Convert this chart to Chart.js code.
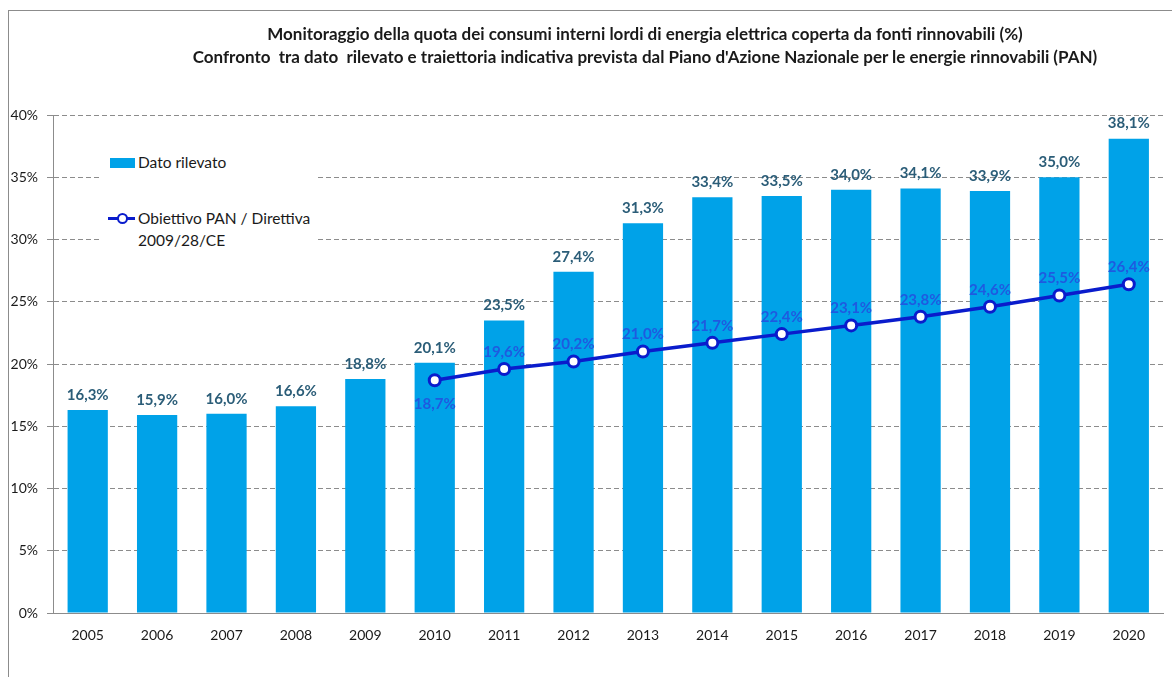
<!DOCTYPE html>
<html><head><meta charset="utf-8">
<script src="https://cdn.jsdelivr.net/npm/chart.js@4"></script>
<style>
html,body{margin:0;padding:0;background:#fff;}
#wrap{position:relative;width:1172px;height:677px;overflow:hidden;font-family:Lato,"Open Sans",sans-serif;}
#frame{position:absolute;left:8px;top:10px;width:1200px;height:700px;border:1px solid #8c8c8c;box-sizing:border-box;}
#title{position:absolute;left:145px;width:1000px;top:22px;text-align:center;font-weight:bold;font-size:17px;line-height:23px;color:#1a1a1a;}
#legend{position:absolute;left:100px;top:142px;width:218px;height:112px;background:#fff;font-size:15.5px;color:#1a1a1a;}
.sw{position:absolute;left:10px;top:16px;width:25px;height:10px;background:#00a2e8;}
.t1{position:absolute;left:38px;top:11px;}
.ln{position:absolute;left:8px;top:75px;width:27px;height:3px;background:#0a1ccc;}
.pt{position:absolute;left:17px;top:71px;width:7px;height:7px;border:2px solid #0a1ccc;border-radius:50%;background:#fff;}
.t2{position:absolute;left:38px;top:65px;line-height:22px;}
canvas{position:absolute;left:0;top:0;}
</style></head>
<body><div id="wrap">
<div id="frame"></div>
<canvas id="c" width="1172" height="677"></canvas>
<div id="title">Monitoraggio della quota dei consumi interni lordi di energia elettrica coperta da fonti rinnovabili (%)<br>Confronto&nbsp; tra dato&nbsp; rilevato e traiettoria indicativa prevista dal Piano d'Azione Nazionale per le energie rinnovabili (PAN)</div>
<div id="legend"><div class="sw"></div><div class="t1">Dato rilevato</div><div class="ln"></div><div class="pt"></div><div class="t2">Obiettivo PAN / Direttiva<br>2009/28/CE</div></div>
</div>
<script>
const years = ['2005','2006','2007','2008','2009','2010','2011','2012','2013','2014','2015','2016','2017','2018','2019','2020'];
const datoRilevato = [16.3,15.9,16.0,16.6,18.8,20.1,23.5,27.4,31.3,33.4,33.5,34.0,34.1,33.9,35.0,38.1];
const obiettivoPAN = [null,null,null,null,null,18.7,19.6,20.2,21.0,21.7,22.4,23.1,23.8,24.6,25.5,26.4];
const yTicks = [0,5,10,15,20,25,30,35,40];

const fmt = v => v.toFixed(1).replace('.', ',') + '%';

const labelsPlugin = {
  id: 'vlabels',
  afterDatasetsDraw(chart) {
    const ctx = chart.ctx;
    ctx.save();
    ctx.textAlign = 'center';
    ctx.textBaseline = 'middle';
    ctx.font = 'bold 15px Lato, "Open Sans", sans-serif';
    const mBar = chart.getDatasetMeta(1);
    mBar.data.forEach((el, i) => {
      ctx.fillStyle = '#2b5d78';
      ctx.fillText(fmt(datoRilevato[i]), el.x, el.y - 15);
    });
    const mLine = chart.getDatasetMeta(0);
    mLine.data.forEach((el, i) => {
      const v = obiettivoPAN[i];
      if (v == null) return;
      ctx.fillStyle = '#1e5ae0';
      const dy = i === 5 ? 24 : -17;
      ctx.fillText(fmt(v), el.x, el.y + dy);
    });
    ctx.restore();
  }
};

new Chart(document.getElementById('c'), {
  data: {
    labels: years,
    datasets: [
      { type: 'line', label: 'Obiettivo PAN / Direttiva 2009/28/CE', data: obiettivoPAN,
        borderColor: '#0a1ccc', borderWidth: 3.5, pointRadius: 5.5, pointBorderWidth: 3,
        pointBackgroundColor: '#fff', pointBorderColor: '#0a1ccc', spanGaps: false, order: 0 },
      { type: 'bar', label: 'Dato rilevato', data: datoRilevato, backgroundColor: '#00a2e8',
        categoryPercentage: 1, barPercentage: 0.58, order: 1 }
    ]
  },
  options: {
    responsive: false, animation: false,
    layout: { padding: { left: 0, right: 4, top: 115, bottom: 0 } },
    plugins: { legend: { display: false }, title: { display: false }, tooltip: { enabled: false } },
    scales: {
      x: {
        grid: { display: false },
        border: { display: true, color: '#8c8c8c', width: 1 },
        ticks: { color: '#1a1a1a', font: { family: 'Lato, "Open Sans", sans-serif', size: 14 }, padding: 6 },
        afterFit(s) { s.height = 64; }
      },
      y: {
        min: 0, max: 40,
        afterBuildTicks(s) { s.ticks = yTicks.map(v => ({ value: v })); },
        grid: { color: '#8c8c8c', lineWidth: 1, tickLength: 6, drawTicks: true },
        border: { display: true, color: '#8c8c8c', width: 1, dash: [5, 3] },
        ticks: { color: '#1a1a1a', font: { family: 'Lato, "Open Sans", sans-serif', size: 14 }, padding: 9,
                 callback: v => v + '%' },
        afterFit(s) { s.width = 53; }
      }
    }
  },
  plugins: [labelsPlugin]
});
</script>
</body></html>
